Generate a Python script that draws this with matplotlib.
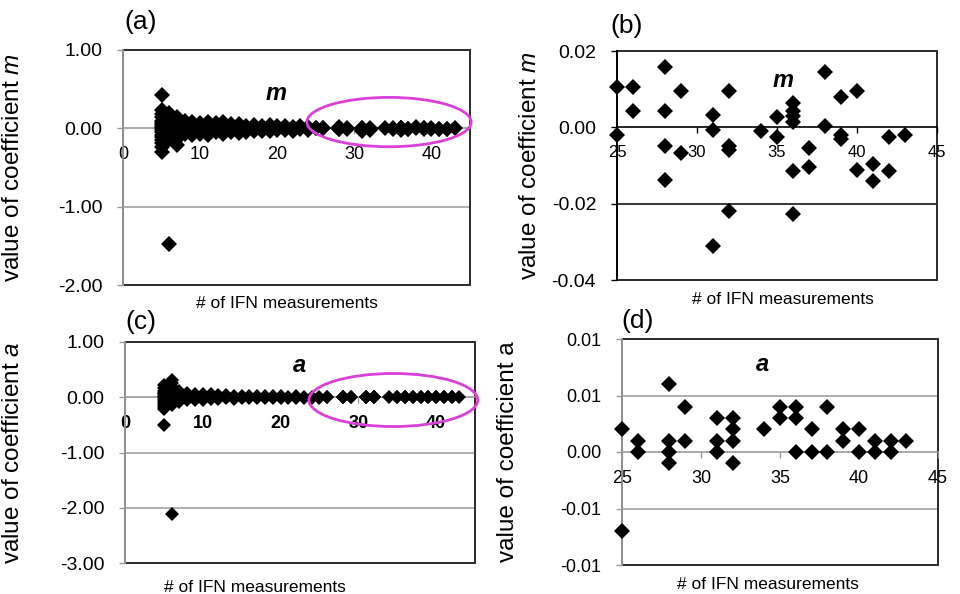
import matplotlib
matplotlib.use('Agg')
import matplotlib.pyplot as plt
from matplotlib.patches import Ellipse, Rectangle

plt.rcParams['font.family'] = ['Liberation Sans', 'DejaVu Sans']
plt.rcParams['mathtext.fontset'] = 'custom'
plt.rcParams['mathtext.it'] = 'Liberation Sans:italic'
plt.rcParams['mathtext.rm'] = 'Liberation Sans'

# ---------------- data ----------------
# coefficient m, early measurement counts (x -> list of values)
m_early_n = [5, 6, 7, 8, 9, 10, 11, 12, 13, 14, 15, 16, 17, 18, 19, 20, 21, 22, 23, 24]
m_early_vals = [
    [0.42, 0.23, 0.18, 0.14, 0.10, 0.07, 0.04, 0.02, 0.00, -0.02, -0.05, -0.08, -0.11, -0.15, -0.19, -0.24, -0.30],
    [0.20, 0.15, 0.10, 0.06, 0.03, 0.00, -0.03, -0.07, -0.11, -0.14, -1.48],
    [0.14, 0.09, 0.05, 0.01, -0.03, -0.08, -0.13, -0.21],
    [0.09, 0.04, -0.02, -0.07],
    [0.08, 0.03, -0.03, -0.08],
    [0.07, 0.02, -0.02, -0.07],
    [0.08, 0.02, -0.04, -0.08],
    [0.07, 0.01, -0.05],
    [0.08, 0.03, -0.03, -0.07],
    [0.06, 0.01, -0.05],
    [0.05, -0.02, -0.06],
    [0.03, -0.02, -0.05],
    [0.04, -0.01, -0.04],
    [0.03, -0.03],
    [0.04, -0.01, -0.04],
    [0.03, -0.02],
    [0.03, -0.02],
    [0.02, -0.03],
    [0.03, -0.01],
    [0.02, -0.02],
]
# coefficient m, 25+ measurements (panel b)
m_tail_x = [25, 25, 26, 26, 28, 28, 28, 28, 29, 29, 31, 31, 31, 32, 32, 32, 32, 34, 35, 35,
            36, 36, 36, 36, 36, 36, 37, 37, 38, 38, 39, 39, 39, 40, 40, 41, 41, 42, 42, 43]
m_tail_y = [0.0105, -0.002, 0.0105, 0.0042, 0.0158, 0.0044, -0.005, -0.0138, 0.0096, -0.0066,
            0.0033, -0.0007, -0.031, 0.0095, -0.005, -0.006, -0.022, -0.0009, 0.0026, -0.0026,
            0.0063, 0.0044, 0.003, 0.0015, -0.0114, -0.0228, -0.0053, -0.0105, 0.0146, 0.0003,
            0.0079, -0.002, -0.003, 0.0095, -0.0111, -0.0095, -0.014, -0.0026, -0.0114, -0.002]

# coefficient a, early measurement counts
a_early_n = [5, 6, 7, 8, 9, 10, 11, 12, 13, 14, 15, 16, 17, 18, 19, 20, 21, 22, 23, 24]
a_early_vals = [
    [0.22, 0.17, 0.12, 0.08, 0.05, 0.02, 0.00, -0.03, -0.06, -0.10, -0.14, -0.18, -0.22, -0.50],
    [0.32, 0.25, 0.18, 0.12, 0.07, 0.03, -0.01, -0.05, -0.10, -0.14, -2.12],
    [0.12, 0.06, 0.01, -0.04, -0.09],
    [0.07, 0.01, -0.05],
    [0.06, 0.00, -0.05],
    [0.05, -0.01, -0.05],
    [0.05, -0.03],
    [0.04, -0.03],
    [0.04, -0.02],
    [0.03, -0.03],
    [0.03, -0.02],
    [0.02, -0.02],
    [0.03, -0.02],
    [0.02, -0.02],
    [0.02, -0.01],
    [0.02, -0.02],
    [0.01, -0.02],
    [0.02, -0.01],
    [0.01, -0.01],
    [0.01, -0.01],
]
# coefficient a, 25+ measurements (panel d)
a_tail_x = [25, 25, 26, 26, 28, 28, 28, 28, 29, 29, 31, 31, 31, 32, 32, 32, 32, 34, 35, 35,
            36, 36, 36, 37, 37, 38, 38, 39, 39, 40, 40, 41, 41, 42, 42, 43]
a_tail_y = [0.002, -0.007, 0.001, 0.0, 0.006, 0.001, 0.0, -0.001, 0.004, 0.001,
            0.003, 0.001, 0.0, 0.003, 0.002, 0.001, -0.001, 0.002, 0.004, 0.003,
            0.004, 0.003, 0.0, 0.002, 0.0, 0.004, 0.0, 0.002, 0.001, 0.002,
            0.0, 0.001, 0.0, 0.001, 0.0, 0.001]

# tick values / labels
full_xticks = [0, 10, 20, 30, 40]
full_xticklabels = ['0', '10', '20', '30', '40']
zoom_xticks = [25, 30, 35, 40, 45]
zoom_xticklabels = ['25', '30', '35', '40', '45']
a_panel_yticks = [1.0, 0.0, -1.0, -2.0]
a_panel_yticklabels = ['1.00', '0.00', '-1.00', '-2.00']
b_panel_yticks = [0.02, 0.0, -0.02, -0.04]
b_panel_yticklabels = ['0.02', '0.00', '-0.02', '-0.04']
c_panel_yticks = [1.0, 0.0, -1.0, -2.0, -3.0]
c_panel_yticklabels = ['1.00', '0.00', '-1.00', '-2.00', '-3.00']
d_panel_yticks = [0.01, 0.005, 0.0, -0.005, -0.01]
d_panel_yticklabels = ['0.01', '0.01', '0.00', '-0.01', '-0.01']


def expand(ns, vals):
    xs, ys = [], []
    for n, vs in zip(ns, vals):
        for v in vs:
            xs.append(n)
            ys.append(v)
    return xs, ys


m_early_x, m_early_y = expand(m_early_n, m_early_vals)
a_early_x, a_early_y = expand(a_early_n, a_early_vals)

FIG_W, FIG_H = 960, 594
fig = plt.figure(figsize=(9.6, 5.94), dpi=100)


def px_axes(l, t, r, b):
    return fig.add_axes([l / FIG_W, 1 - b / FIG_H, (r - l) / FIG_W, (b - t) / FIG_H])


AX_GRAY = '#9a9a9a'
BORDER = '#2a2a2a'


def style(ax, xlim, ylim, xticks, xtl, yticks, ytl, grid_vals, grid_color, axis_color,
          xfs=13, yfs=14, xbold=False):
    ax.set_xlim(*xlim)
    ax.set_ylim(*ylim)
    for s in ['top', 'right']:
        ax.spines[s].set_visible(False)
    ax.spines['left'].set_color(axis_color)
    ax.spines['left'].set_linewidth(1.3)
    ax.spines['bottom'].set_position(('data', 0))
    ax.spines['bottom'].set_color(axis_color)
    ax.spines['bottom'].set_linewidth(1.2)
    ax.add_patch(Rectangle((0, 0), 1, 1, transform=ax.transAxes, fill=False,
                           edgecolor=BORDER, lw=1.4, clip_on=False, zorder=1))
    for g in grid_vals:
        ax.axhline(g, color=grid_color, lw=1.1, zorder=0.5)
    ax.set_xticks(xticks)
    ax.set_xticklabels(xtl, fontsize=xfs, fontweight='bold' if xbold else 'normal')
    ax.set_yticks(yticks)
    ax.set_yticklabels(ytl, fontsize=yfs)
    ax.tick_params(axis='x', direction='out', length=4, pad=9, color=axis_color, width=1)
    ax.tick_params(axis='y', direction='out', length=4, pad=11, color=axis_color, width=1)


XLABEL = '# of IFN measurements'
MAG = '#d840d8'

# ---- (a)
ax_a = px_axes(123, 50, 470, 285)
style(ax_a, (0, 45), (-2, 1), full_xticks, full_xticklabels, a_panel_yticks, a_panel_yticklabels,
      [-1.0], AX_GRAY, AX_GRAY)
ax_a.plot(m_early_x + m_tail_x, m_early_y + m_tail_y, 'D', color='black', markersize=8.2,
          markeredgewidth=0, zorder=3)
ax_a.add_patch(Ellipse((34.5, 0.08), 21.3, 0.63, fill=False, edgecolor=MAG, lw=2,
                       clip_on=False, zorder=4))
ax_a.text(19.9, 0.45, 'm', fontsize=17, fontweight='bold', fontstyle='italic',
          ha='center', va='center')
ax_a.set_ylabel('value of coefficient $m$', fontsize=17.5)
ax_a.yaxis.set_label_coords(-0.285, 0.5)
ax_a.set_xlabel(XLABEL, fontsize=12.5)
ax_a.xaxis.set_label_coords(0.473, -0.077)
ax_a.xaxis.label.set_va('center')

# ---- (b)
ax_b = px_axes(617, 51, 937, 280)
style(ax_b, (25, 45), (-0.04, 0.02), zoom_xticks, zoom_xticklabels, b_panel_yticks,
      b_panel_yticklabels, [-0.02], 'black', 'black', xfs=12)
ax_b.plot(m_tail_x, m_tail_y, 'D', color='black', markersize=8.5, markeredgewidth=0,
          zorder=3, clip_on=False)
ax_b.text(35.4, 0.0124, 'm', fontsize=17, fontweight='bold', fontstyle='italic',
          ha='center', va='center')
ax_b.set_ylabel('value of coefficient $m$', fontsize=17.5)
ax_b.yaxis.set_label_coords(-0.2375, 0.5)
ax_b.set_xlabel(XLABEL, fontsize=12.5)
ax_b.xaxis.set_label_coords(0.52, -0.087)
ax_b.xaxis.label.set_va('center')

# ---- (c)
ax_c = px_axes(125, 342, 475, 563)
style(ax_c, (0, 45), (-3, 1), full_xticks, full_xticklabels, c_panel_yticks, c_panel_yticklabels,
      [-1.0, -2.0], AX_GRAY, AX_GRAY, xfs=13, xbold=True)
ax_c.plot(a_early_x + a_tail_x, a_early_y + a_tail_y, 'D', color='black', markersize=7.0,
          markeredgewidth=0, zorder=3)
ax_c.add_patch(Ellipse((34.5, -0.05), 21.7, 0.96, fill=False, edgecolor=MAG, lw=2,
                       clip_on=False, zorder=4))
ax_c.text(22.4, 0.57, 'a', fontsize=17, fontweight='bold', fontstyle='italic',
          ha='center', va='center')
ax_c.set_ylabel('value of coefficient $a$', fontsize=17.5)
ax_c.yaxis.set_label_coords(-0.289, 0.5)
ax_c.set_xlabel(XLABEL, fontsize=12.5)
ax_c.xaxis.set_label_coords(0.371, -0.109)
ax_c.xaxis.label.set_va('center')

# ---- (d)
ax_d = px_axes(622, 339, 938, 565)
style(ax_d, (25, 45), (-0.01, 0.01), zoom_xticks, zoom_xticklabels, d_panel_yticks,
      d_panel_yticklabels, [0.005, -0.005], AX_GRAY, AX_GRAY, xfs=13, yfs=13)
ax_d.plot(a_tail_x, a_tail_y, 'D', color='black', markersize=8.5, markeredgewidth=0,
          zorder=3, clip_on=False)
ax_d.text(33.9, 0.0077, 'a', fontsize=17, fontweight='bold', fontstyle='italic',
          ha='center', va='center')
ax_d.set_ylabel('value of coefficient a', fontsize=17.5)
ax_d.yaxis.set_label_coords(-0.326, 0.5)
ax_d.set_xlabel(XLABEL, fontsize=12.5)
ax_d.xaxis.set_label_coords(0.462, -0.088)
ax_d.xaxis.label.set_va('center')

# panel letters
for lab, x, y in [('(a)', 141, 22), ('(b)', 627, 26), ('(c)', 141, 322), ('(d)', 638, 321)]:
    fig.text(x / FIG_W, 1 - y / FIG_H, lab, fontsize=19, ha='center', va='center')

fig.savefig('out.png', dpi=100, facecolor='white')
